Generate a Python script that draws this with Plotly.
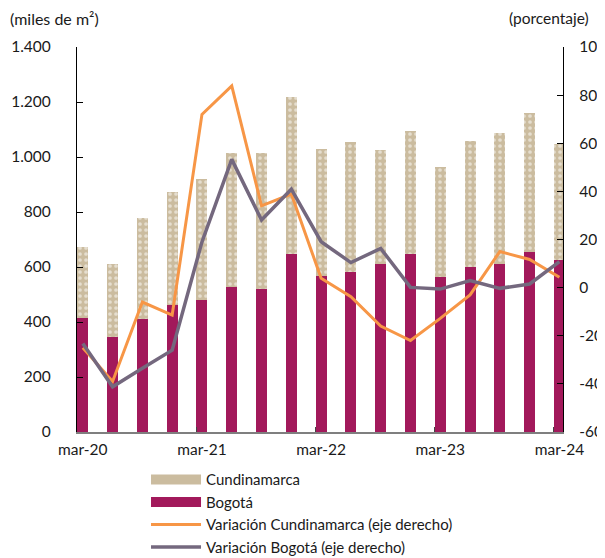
import plotly.graph_objects as go

periods = ["mar-20","jun-20","sep-20","dic-20","mar-21","jun-21","sep-21","dic-21",
           "mar-22","jun-22","sep-22","dic-22","mar-23","jun-23","sep-23","dic-23","mar-24"]
bogota = [413, 344, 410, 462, 480, 526, 521, 647, 568, 583, 611, 647, 563, 601, 611, 656, 625]
cundinamarca = [258, 266, 367, 410, 439, 487, 495, 572, 462, 470, 414, 449, 402, 457, 475, 505, 421]
var_cund = [-25, -39, -6, -11.4, 72, 83.8, 34, 38.9, 3.9, -3.8, -16, -22, -12.8, -3, 15, 11.7, 4.3]
var_bog = [-23.2, -41.2, -33.5, -26, 19, 53.3, 28.1, 40.9, 19.1, 10.4, 16.3, 0.1, -0.6, 2.9, -0.3, 1.5, 10.8]

tick_labels = ["mar-20", "mar-21", "mar-22", "mar-23", "mar-24"]
left_ticks = [0, 200, 400, 600, 800, 1000, 1200, 1400]
right_ticks = [-60, -40, -20, 0, 20, 40, 60, 80, 100]

x = list(range(len(periods)))
label_idx = [i for i, p in enumerate(periods) if p.startswith("mar")]

MAROON = "#A2195B"
BEIGE = "#CBBC9F"
ORANGE = "#F79646"
GRAY = "#74687E"
FONT = "Lato"
FS = 15.5
LFS = 15

fig = go.Figure()
fig.add_trace(go.Bar(x=x, y=bogota, name="Bogotá", marker=dict(color=MAROON, line=dict(width=0)),
                     width=0.37, showlegend=False))
fig.add_trace(go.Bar(x=x, y=cundinamarca, name="Cundinamarca",
                     marker=dict(color=BEIGE, line=dict(width=0),
                                 pattern=dict(shape=".", fgcolor="white", bgcolor=BEIGE, size=6, solidity=0.3)),
                     width=0.37, showlegend=False))
fig.add_trace(go.Scatter(x=x, y=var_cund, yaxis="y2", mode="lines", name="Variación Cundinamarca (eje derecho)",
                         line=dict(color=ORANGE, width=3), showlegend=False))
fig.add_trace(go.Scatter(x=x, y=var_bog, yaxis="y2", mode="lines", name="Variación Bogotá (eje derecho)",
                         line=dict(color=GRAY, width=3.5), showlegend=False))

# legend entries
for nm, col, w in [("Cundinamarca", BEIGE, 10), ("Bogotá", MAROON, 10),
                   ("Variación Cundinamarca (eje derecho)", ORANGE, 3),
                   ("Variación Bogotá (eje derecho)", GRAY, 3.5)]:
    fig.add_trace(go.Scatter(x=[None], y=[None], mode="lines", name=nm,
                             line=dict(color=col, width=w), showlegend=True))

fig.add_trace(go.Scatter(x=[None], y=[None], xaxis="x2", showlegend=False, hoverinfo="skip"))

rng = [-0.195, 16.12]
fig.update_layout(
    width=597, height=550,
    margin=dict(l=69, r=42, t=39, b=126, autoexpand=False),
    paper_bgcolor="white", plot_bgcolor="white",
    barmode="stack",
    separators=",.",
    font=dict(family=FONT, size=FS, color="#1a1a1a"),
    xaxis=dict(range=rng, tickmode="array", tickvals=[i - 0.2 for i in label_idx], ticktext=[""] * len(label_idx),
               ticks="inside", ticklen=5, tickcolor="#444444", showline=True, linecolor="#7f7f7f", linewidth=1.5,
               showgrid=False, zeroline=False, automargin=False),
    xaxis2=dict(range=rng, overlaying="x", side="bottom", anchor="y", tickmode="array",
                tickvals=label_idx, ticktext=tick_labels, ticks="", showline=False, showgrid=False,
                zeroline=False, ticklabelstandoff=6, tickfont=dict(size=FS), automargin=False),
    yaxis=dict(range=[0, 1400], tickmode="array", tickvals=left_ticks,
               ticktext=[f"{v:,}".replace(",", ".") for v in left_ticks],
               ticks="inside", ticklen=6, tickcolor="black", showline=True, linecolor="black", linewidth=1.2,
               showgrid=False, zeroline=False, ticklabelstandoff=22, tickfont=dict(size=FS), automargin=False),
    yaxis2=dict(range=[-60, 100], overlaying="y", side="right", anchor="x", tickmode="array",
                tickvals=right_ticks, ticktext=[str(v) for v in right_ticks],
                ticks="inside", ticklen=6, tickcolor="black", showline=True, linecolor="black", linewidth=1.2,
                showgrid=False, zeroline=False, ticklabelstandoff=12, tickfont=dict(size=FS), automargin=False),
    legend=dict(x=0.142, y=-0.081, xanchor="left", yanchor="top", orientation="v", traceorder="normal",
                itemwidth=50, tracegroupgap=0, font=dict(size=LFS), bgcolor="rgba(0,0,0,0)"),
    annotations=[
        dict(text="(miles de m²)", xref="paper", yref="paper", x=-0.142, y=1.075, xanchor="left",
             yanchor="middle", showarrow=False, font=dict(size=16)),
        dict(text="(porcentaje)", xref="paper", yref="paper", x=0.885, y=1.075, xanchor="left",
             yanchor="middle", showarrow=False, font=dict(size=15.5)),
    ],
)

fig.write_html("out.html")
